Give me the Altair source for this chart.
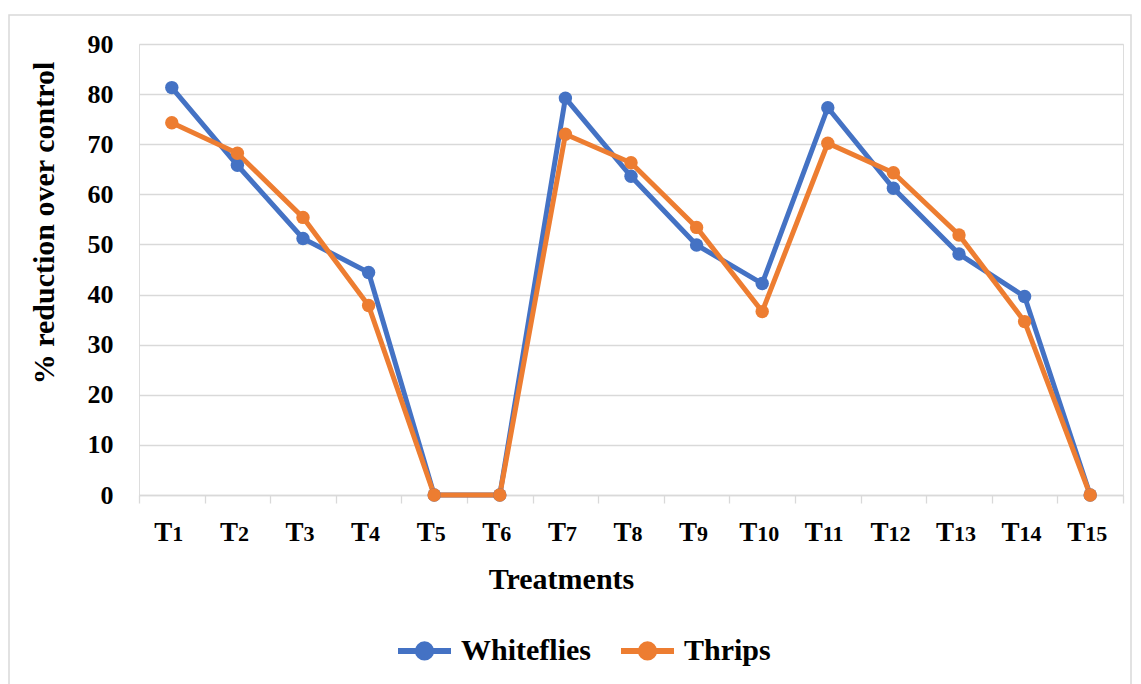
import altair as alt
import pandas as pd

treatments = ["T1", "T2", "T3", "T4", "T5", "T6", "T7", "T8", "T9", "T10",
              "T11", "T12", "T13", "T14", "T15"]
whiteflies = [81.3, 65.8, 51.2, 44.4, 0, 0, 79.2, 63.6, 49.9, 42.2, 77.3, 61.2, 48.1, 39.6, 0]
thrips = [74.3, 68.2, 55.4, 37.8, 0, 0, 72.0, 66.3, 53.4, 36.6, 70.2, 64.3, 51.9, 34.6, 0]
series = ["Whiteflies", "Thrips"]
colors = ["#4472C4", "#ED7D31"]

rows = []
for name, vals in zip(series, [whiteflies, thrips]):
    for t, v in zip(treatments, vals):
        rows.append({"Treatment": t, "Value": v, "Series": name})
df = pd.DataFrame(rows)

labels_df = pd.DataFrame({
    "Treatment": treatments,
    "prefix": [t[0] for t in treatments],
    "sub": [t[1:] for t in treatments],
    "ndig": [len(t) - 1 for t in treatments],
})

FONT = "Liberation Serif"
GRID = "#D9D9D9"

legend_path = "M-1,0H1M-0.25,0A0.25,0.25 0 1,1 0.25,0A0.25,0.25 0 1,1 -0.25,0Z"

xscale = alt.Scale(domain=treatments, paddingInner=0, paddingOuter=0)
x = alt.X("Treatment:N", sort=treatments, title="Treatments", scale=xscale,
          axis=alt.Axis(labels=False, tickBand="extent", tickSize=8,
                        tickColor=GRID, domainColor=GRID, tickWidth=1.3,
                        domainWidth=1.3, grid=False,
                        titleFont=FONT, titleFontSize=30, titleFontWeight="bold",
                        titleColor="#000000", titleX=422, titleY=93,
                        titleBaseline="alphabetic", titleAlign="center"))
y = alt.Y("Value:Q", title="% reduction over control",
          scale=alt.Scale(domain=[0, 90], nice=False),
          axis=alt.Axis(values=list(range(0, 100, 10)), ticks=False, domain=False,
                        gridColor=GRID, gridWidth=1.3, labelFont=FONT,
                        labelFontSize=26, labelFontWeight="bold", labelColor="#000000",
                        labelPadding=26, titleFont=FONT, titleFontSize=30,
                        titleFontWeight="bold", titleColor="#000000",
                        titleX=-86, titleY=178.5, titleAngle=-90,
                        titleAlign="center", titleBaseline="alphabetic"))
color = alt.Color("Series:N", sort=series,
                  scale=alt.Scale(domain=series, range=colors),
                  legend=alt.Legend(title=None, orient="none", direction="horizontal",
                                    legendX=256, legendY=577,
                                    symbolType=legend_path, symbolSize=2809,
                                    symbolStrokeWidth=6, labelFont=FONT, labelFontSize=30,
                                    labelFontWeight="bold", labelColor="#000000",
                                    columnPadding=18, labelOffset=7))

base = alt.Chart(df)
lines = base.mark_line(strokeWidth=5).encode(x=x, y=y, color=color)
points = base.mark_point(filled=True, size=180, opacity=1).encode(
    x=x, y=y, color=alt.Color("Series:N", sort=series,
                              scale=alt.Scale(domain=series, range=colors), legend=None))

lab = alt.Chart(labels_df)
xl = alt.X("Treatment:N", sort=treatments, scale=xscale)


def label_layer(field, ndig, align, dx, size):
    return lab.transform_filter(alt.datum.ndig == ndig).mark_text(
        align=align, baseline="alphabetic", dx=dx, font=FONT, fontSize=size,
        fontWeight="bold", color="#000000").encode(
        x=xl, y=alt.value(497), text=f"{field}:N")


label_layers = [
    label_layer("prefix", 1, "right", 0.5, 27),
    label_layer("sub", 1, "left", 0.5, 22),
    label_layer("prefix", 2, "right", -5, 27),
    label_layer("sub", 2, "left", -5, 22),
]

frame = alt.Chart(pd.DataFrame({"a": [0]})).mark_rect(
    fill=None, stroke=GRID, strokeWidth=1.5).encode(
    x=alt.value(-130), x2=alt.value(992), y=alt.value(-29), y2=alt.value(680))

chart = alt.layer(frame, lines, points, *label_layers).properties(
    width=984, height=451,
    autosize=alt.AutoSizeParams(type="none"),
    padding={"left": 139, "top": 44, "right": 18, "bottom": 189},
).configure_view(stroke=None).configure(background="white")

chart.save("out.html", embed_options={"renderer": "svg", "actions": False})
